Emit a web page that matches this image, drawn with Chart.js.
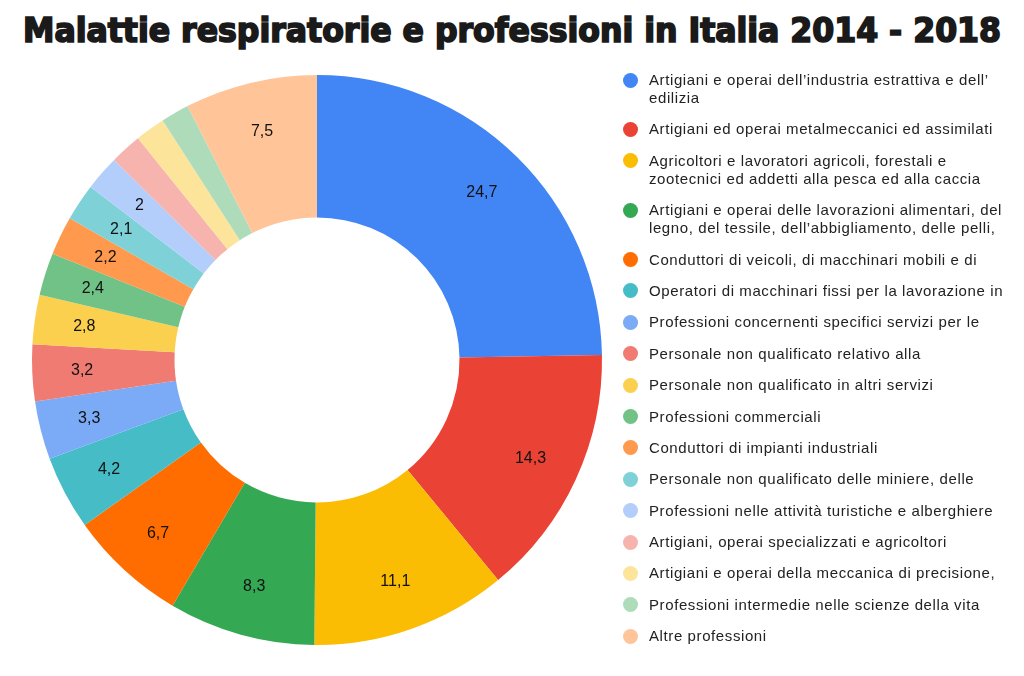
<!DOCTYPE html>
<html>
<head>
<meta charset="utf-8">
<script src="https://cdn.jsdelivr.net/npm/chart.js@4"></script>
<style>
  html, body { margin: 0; padding: 0; background: #fff; }
  body { width: 1024px; height: 676px; position: relative; overflow: hidden; }
  #title {
    position: absolute; left: 0; top: 11px; width: 1024px; text-align: center;
    font-family: "DejaVu Sans Condensed", "DejaVu Sans", sans-serif; font-weight: bold;
    font-size: 33px; color: #1a1a1a; white-space: nowrap; margin: 0;
    -webkit-text-stroke: 1.6px #1a1a1a; transform-origin: 512px 50%;
  }
  #chartBox { position: absolute; left: 0; top: 75px; width: 634px; height: 570px; }
  #legend {
    position: absolute; left: 622px; top: 71px; width: 402px;
    font-family: "Liberation Sans", Arial, sans-serif; font-size: 15px; letter-spacing: 0.6px; color: #222;
  }
  .item { position: relative; padding-left: 27px; line-height: 18px; padding-bottom: 13.4px; white-space: nowrap; }
  .dot { position: absolute; left: 1px; top: 1.5px; width: 15px; height: 15px; border-radius: 50%; }
</style>
</head>
<body>
<h1 id="title">Malattie respiratorie e professioni in Italia 2014 - 2018</h1>
<div id="chartBox"><canvas id="chart"></canvas></div>
<div id="legend"></div>
<script>
const categories = [
  ['Artigiani e operai dell\u2019industria estrattiva e dell\u2019', 'edilizia'],
  ['Artigiani ed operai metalmeccanici ed assimilati'],
  ['Agricoltori e lavoratori agricoli, forestali e', 'zootecnici ed addetti alla pesca ed alla caccia'],
  ['Artigiani e operai delle lavorazioni alimentari, del', 'legno, del tessile, dell\u2019abbigliamento, delle pelli,'],
  ['Conduttori di veicoli, di macchinari mobili e di'],
  ['Operatori di macchinari fissi per la lavorazione in'],
  ['Professioni concernenti specifici servizi per le'],
  ['Personale non qualificato relativo alla'],
  ['Personale non qualificato in altri servizi'],
  ['Professioni commerciali'],
  ['Conduttori di impianti industriali'],
  ['Personale non qualificato delle miniere, delle'],
  ['Professioni nelle attivit\u00e0 turistiche e alberghiere'],
  ['Artigiani, operai specializzati e agricoltori'],
  ['Artigiani e operai della meccanica di precisione,'],
  ['Professioni intermedie nelle scienze della vita'],
  ['Altre professioni']
];
const values = [24.7, 14.3, 11.1, 8.3, 6.7, 4.2, 3.3, 3.2, 2.8, 2.4, 2.2, 2.1, 2, 1.8, 1.7, 1.6, 7.5];
const colors = ['#4285f4', '#ea4335', '#fbbc04', '#34a853', '#ff6d01', '#46bdc6', '#7baaf7', '#f07b72',
  '#fcd04f', '#71c287', '#ff994d', '#7ed1d7', '#b3cefb', '#f7b4ae', '#fde49b', '#aedcba', '#ffc599'];

// fit the title to the width of the reference heading
const title = document.getElementById('title');
const range = document.createRange();
range.selectNodeContents(title);
const tw = range.getBoundingClientRect().width;
title.style.transform = 'scaleX(' + (978 / tw) + ')';

// html legend
const legend = document.getElementById('legend');
categories.forEach((lines, i) => {
  const item = document.createElement('div');
  item.className = 'item';
  const dot = document.createElement('span');
  dot.className = 'dot';
  dot.style.background = colors[i];
  item.appendChild(dot);
  lines.forEach((line, j) => {
    if (j > 0) item.appendChild(document.createElement('br'));
    item.appendChild(document.createTextNode(line));
  });
  legend.appendChild(item);
});

// value labels inside the slices
const sliceLabels = {
  id: 'sliceLabels',
  afterDatasetsDraw(chart) {
    const ctx = chart.ctx;
    const meta = chart.getDatasetMeta(0);
    ctx.save();
    ctx.font = '16px "Liberation Sans", Arial, sans-serif';
    ctx.fillStyle = '#111';
    ctx.textAlign = 'center';
    ctx.textBaseline = 'middle';
    meta.data.forEach((arc, i) => {
      const v = values[i];
      if (v < 2) return;
      const p = arc.getProps(['x', 'y', 'startAngle', 'endAngle', 'innerRadius', 'outerRadius'], true);
      const a = (p.startAngle + p.endAngle) / 2;
      const r = p.innerRadius + 0.65 * (p.outerRadius - p.innerRadius);
      ctx.fillText(String(v).replace('.', ','), p.x + Math.cos(a) * r, p.y + Math.sin(a) * r);
    });
    ctx.restore();
  }
};

new Chart(document.getElementById('chart'), {
  type: 'doughnut',
  data: {
    labels: categories.map(l => l.join(' ')),
    datasets: [{
      data: values,
      backgroundColor: colors,
      borderWidth: 0
    }]
  },
  options: {
    responsive: true,
    maintainAspectRatio: false,
    animation: false,
    cutout: '50%',
    layout: { padding: 0 },
    plugins: {
      legend: { display: false },
      tooltip: { enabled: false }
    }
  },
  plugins: [sliceLabels]
});
</script>
</body>
</html>
